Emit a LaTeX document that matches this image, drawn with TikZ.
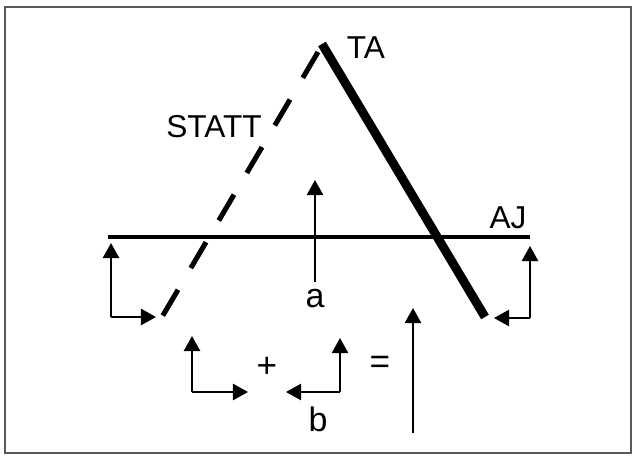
\documentclass[tikz,border=0pt]{standalone}
\usepackage{fontspec}
\setmainfont{Liberation Sans}
\usetikzlibrary{arrows.meta}

\tikzset{
  vec/.style={line width=1.7pt, -{Triangle[length=13pt,width=14pt]}},
  lbl/.style={font=\fontsize{27}{27}\selectfont, inner sep=0pt},
  sym/.style={font=\fontsize{29}{29}\selectfont, inner sep=0pt},
}

\begin{document}
\begin{tikzpicture}[x=0.03cm, y=-0.03cm]
    \useasboundingbox (0,0) rectangle (636,456);
    \draw[line width=1pt, black!65] (5,7) rectangle (631,453);

    % AJ (horizontal)
    \coordinate (ajL) at (108,237);
    \coordinate (ajR) at (530,237);
    \draw[line width=3.4pt] (ajL) -- (ajR);
    \node[lbl] (aj) at (508,218) {AJ};

    % TA (thick)
    \coordinate (taT) at (322,44);
    \coordinate (taB) at (485,317);
    \draw[line width=7.6pt] (taT) -- (taB);
    \node[lbl] (ta) at (366,48) {TA};

    % STATT (dashed)
    \coordinate (stT) at (318,52);
    \coordinate (stB) at (162,317);
    \draw[line width=4.3pt, dash pattern=on 25.6pt off 21.5pt] (stT) -- (stB);
    \node[lbl] (statt) at (214,127) {STATT};

    % a
    \node[sym] (a) at (315,299) {a};
    \coordinate (aB) at (315,282);
    \coordinate (aT) at (315,180);
    \draw[vec] (aB) -- (aT);

    % left and right brackets
    \coordinate (lc) at (111,317);
    \draw[vec] (lc) -- (111,243);
    \draw[vec] (lc) -- (156,317);
    \coordinate (rc) at (530,318);
    \draw[vec] (rc) -- (530,246);
    \draw[vec] (rc) -- (494,318);

    % b = sum
    \coordinate (c1) at (192,392);
    \draw[vec] (c1) -- (192,336);
    \draw[vec] (c1) -- (248,392);
    \node[font=\fontsize{30}{30}\selectfont, inner sep=0pt] (plus) at (267,367) {+};
    \coordinate (c2) at (340,392);
    \draw[vec] (c2) -- (340,338);
    \draw[vec] (c2) -- (286,392);
    \node[sym] (b) at (318,419) {b};
    \node[font=\fontsize{30}{30}\selectfont, inner sep=0pt] (eq) at (380,365) {=};
    \coordinate (sB) at (413,433);
    \coordinate (sT) at (413,308);
    \draw[vec] (sB) -- (sT);
\end{tikzpicture}
\end{document}
